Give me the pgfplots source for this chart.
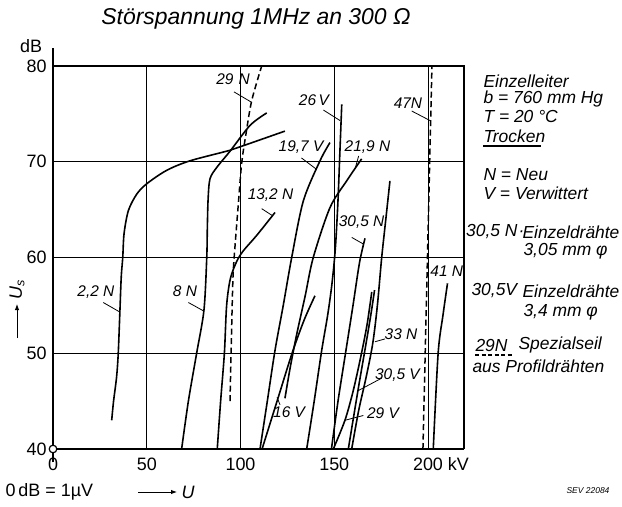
\documentclass[border=0pt]{standalone}
\usepackage{fontspec}
\setmainfont{Liberation Sans}
\usepackage{pgfplots}
\pgfplotsset{compat=1.18}
\usetikzlibrary{arrows.meta}
\newcommand\lab{\fontsize{15.5}{16}\selectfont\itshape}
\newcommand\rt{\fontsize{17.5}{18}\selectfont\itshape}
\newcommand\tk{\fontsize{18}{18}\selectfont}
\begin{document}
\begin{tikzpicture}[x=1bp,y=1bp]
\useasboundingbox (0,0) rectangle (622,-507);
\begin{axis}[
  scale only axis, width=411bp, height=383bp,
  at={(53bp,-449bp)}, anchor=south west,
  xmin=0, xmax=219.2, ymin=40, ymax=80,
  xtick={0,50,100,150,200},
  xticklabels={0,50,100,150,200\rlap{ kV}},
  ytick={40,50,60,70,80},
  grid=major, major grid style={line width=0.7bp, black},
  major tick length=0pt,
  axis line style={draw=none},
  ticklabel style={font=\tk},
  xticklabel style={yshift=-5bp},
  yticklabel style={xshift=-3bp},
  clip=false,
  /pgf/number format/assume math mode=true,
]
% frame and axes
\draw[line width=1.2bp] (axis cs:0,80) -- (axis cs:219.2,80) -- (axis cs:219.2,40);
\draw[line width=2bp] (axis cs:0,40) -- (axis cs:219.2,40);
\draw[line width=2bp] (axis cs:0,38.6) -- (axis cs:0,81.9);

% 2.2 N
\addplot[black, line width=1.6bp, smooth] coordinates {(31.3,43)(32.3,45)(33.9,47.5)(34.8,50)(35.7,54.5)(36.4,58)(37.2,60)(37.9,62.5)(40.2,64.9)(44.6,66.6)(50,67.7)(60.6,69.1)(73.1,70.1)(94.4,71.2)(103.3,71.8)(123.7,73.2)};
% 8 N
\addplot[black, line width=1.6bp, smooth] coordinates {(68.6,40)(72.2,45)(76.6,50)(80.5,54.5)(82,60)(82.3,63)(82.7,66)(83.7,68.2)(87.3,69.4)(94.4,71.1)(105.1,73.8)(114,75.1)};
% 13.2 N
\addplot[black, line width=1.6bp, smooth] coordinates {(87.6,40)(89.4,45)(91.4,50)(92.6,55)(94.6,57.8)(98,59.6)(101.5,60.7)(108.6,62.3)(118.4,64.7)};
% 19.7 V
\addplot[black, line width=1.6bp, smooth] coordinates {(110.4,40)(114.3,45)(118.4,50.3)(122.8,55)(127.3,60)(133.5,65.9)(142.4,70.1)(147.7,72)};
% 16 V
\addplot[black, line width=1.6bp, smooth] coordinates {(111.5,40)(119.5,45)(127.5,50)(134,53.5)(139.7,56)};
% 21.9 N
\addplot[black, line width=1.6bp, smooth] coordinates {(123.7,45.3)(126.5,48.5)(130,52)(134.5,56)(138.8,60)(147.7,65.2)(156.6,68)(164.6,70.3)};
% 26 V
\addplot[black, line width=1.6bp, smooth] coordinates {(135.3,40)(139.3,45)(143.3,50.3)(146.5,54)(148.8,57.3)(150.6,61)(152,66)(153,71)(154,76)};
% 30.5 N
\addplot[black, line width=1.6bp, smooth] coordinates {(148.5,40)(152,45)(156,50)(160,55)(163.5,59.5)(166.4,62)};
% 33 N
\addplot[black, line width=1.6bp, smooth] coordinates {(159.3,40)(163,44)(167,47.5)(170.5,51)(173,55)(175.3,60)(177.5,64)(179.7,68)};
% 29 V
\addplot[black, line width=1.6bp, smooth] coordinates {(149.5,40)(155.7,43)(160,46)(164,49.5)(167.5,53)(170,56.4)};
% 30.5 V
\addplot[black, line width=1.6bp, smooth] coordinates {(157.5,40)(162.8,46.3)(166.5,50.5)(169.5,54)(171.5,56.6)};
% 41 N
\addplot[black, line width=1.6bp, smooth] coordinates {(202.8,40)(205.4,50)(208,54)(210.4,57.3)};
% 29 N dashed
\addplot[black, line width=1.5bp, smooth, dash pattern=on 6bp off 3.5bp] coordinates {(94.4,45)(95.2,52)(96,58)(97,61)(98.6,65)(100.6,69.8)(103,73)(106,76.4)(111.3,80)};
% 47 N dashed
\addplot[black, line width=1.5bp, dash pattern=on 6bp off 3.5bp] coordinates {(197.3,40)(202.1,80)};

% origin circle
\draw[line width=1.2bp, fill=white] (axis cs:0,40) circle (3.8bp);

% curve labels and leaders
\node[font=\lab] at (axis cs:96,78.6) {29\,\,N};
\draw[line width=0.8bp] (axis cs:96.5,77.3) -- (axis cs:106,76.2);
\node[font=\lab] at (axis cs:139.2,76.4) {26\,V};
\draw[line width=0.8bp] (axis cs:144.2,75.4) -- (axis cs:153.1,74.3);
\node[font=\lab] at (axis cs:189.3,76.1) {47N};
\draw[line width=0.8bp] (axis cs:191.3,75.3) -- (axis cs:201.1,74.3);
\node[font=\lab] at (axis cs:132.3,71.5) {19,7 V};
\draw[line width=0.8bp] (axis cs:132.5,70.4) -- (axis cs:140.6,69.2);
\node[font=\lab] at (axis cs:167.7,71.5) {21,9 N};
\draw[line width=0.8bp] (axis cs:163,70.6) -- (axis cs:161.3,69.4);
\node[font=\lab] at (axis cs:116,66.5) {13,2 N};
\draw[line width=0.8bp] (axis cs:111.3,65.1) -- (axis cs:116.8,64.4);
\node[font=\lab] at (axis cs:164.6,63.7) {30,5 N};
\draw[line width=0.8bp] (axis cs:159.3,62.1) -- (axis cs:165.6,61.4);
\node[font=\lab] at (axis cs:22.9,56.4) {2,2 N};
\draw[line width=0.8bp] (axis cs:26.8,55.3) -- (axis cs:35.7,54.3);
\node[font=\lab] at (axis cs:70.4,56.5) {8 N};
\draw[line width=0.8bp] (axis cs:72.2,55.3) -- (axis cs:80.5,54.4);
\node[font=\lab] at (axis cs:125.9,43.8) {16 V};
\draw[line width=0.8bp] (axis cs:121.1,44.6) -- (axis cs:119.5,45.4);
\node[font=\lab] at (axis cs:185.6,52) {33 N};
\draw[line width=0.8bp] (axis cs:177.1,51.5) -- (axis cs:171.7,51.2);
\node[font=\lab] at (axis cs:183.7,47.7) {30,5 V};
\draw[line width=0.8bp] (axis cs:175.3,47.4) -- (axis cs:162.8,46.1);
\node[font=\lab] at (axis cs:176,43.7) {29 V};
\draw[line width=0.8bp] (axis cs:165.5,43.5) -- (axis cs:155.7,43);
\node[font=\lab] at (axis cs:210,58.6) {41 N};
\end{axis}

% title
\node[font=\fontsize{23}{23}\selectfont\itshape] at (256,-19) {Störspannung 1MHz an 300 Ω};
% y unit and axis label
\node[font=\tk] at (31,-46) {dB};
\draw[-{Latex[length=6bp,width=4.5bp]}, line width=0.9bp] (17,-338) -- (17,-304);
\node[rotate=90, font=\tk\itshape] at (17,-290) {U\textsubscript{s}};
% x axis label
\node[font=\tk, anchor=west] at (2,-492) {0\,dB = 1µV};
\draw[-{Latex[length=6bp,width=4.5bp]}, line width=0.9bp] (138,-492) -- (177,-492);
\node[font=\tk\itshape, anchor=west] at (178,-492) {U};
\node[font=\fontsize{8.5}{9}\selectfont\itshape] at (588,-491) {SEV 22084};

% right-hand legend text
\node[anchor=west, font=\rt] at (480,-81) {Einzelleiter};
\node[anchor=west, font=\rt] at (480,-99) {b = 760 mm Hg};
\node[anchor=west, font=\rt] at (480,-117) {T = 20 °C};
\node[anchor=west, font=\rt] at (480,-136) {Trocken};
\draw[line width=1.3bp] (483,-146) -- (541,-146);
\node[anchor=west, font=\rt] at (480,-175) {N = Neu};
\node[anchor=west, font=\rt] at (480,-193) {V = Verwittert};
\node[anchor=west, font=\rt, inner xsep=1bp] at (465,-232) {30,5 N\kern1bp·};
\node[anchor=west, font=\rt] at (519,-232) {Einzeldrähte};
\node[anchor=west, font=\rt] at (520,-251) {3,05 mm φ};
\node[anchor=west, font=\rt] at (468,-291) {30,5V};
\node[anchor=west, font=\rt] at (519,-291) {Einzeldrähte};
\node[anchor=west, font=\rt] at (520,-312) {3,4 mm φ};
\node[anchor=west, font=\rt] at (472,-345) {29N};
\draw[line width=1.2bp, dash pattern=on 4bp off 2.5bp] (475,-355) -- (512,-355);
\node[anchor=west, font=\rt] at (515,-345) {Spezialseil};
\node[anchor=west, font=\rt] at (469,-366) {aus Profildrähten};
\end{tikzpicture}
\end{document}
